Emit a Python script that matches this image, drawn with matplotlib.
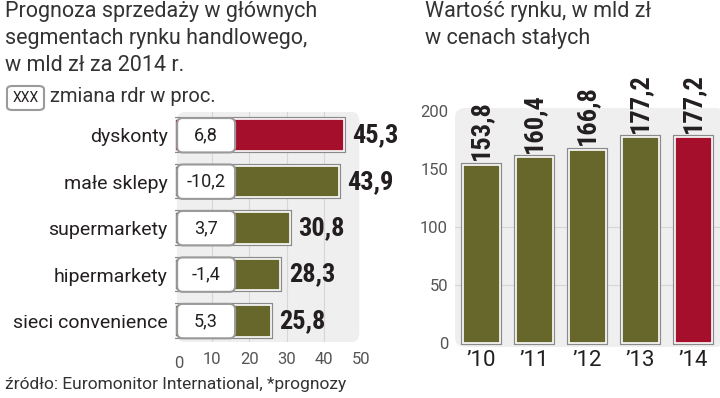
import matplotlib
matplotlib.use('Agg')
import matplotlib.pyplot as plt
import matplotlib.patheffects as pe
from matplotlib.patches import FancyBboxPatch

# left chart: sales forecast 2014 by segment
segments = ['dyskonty', 'małe sklepy', 'supermarkety', 'hipermarkety', 'sieci convenience']
sales = [45.3, 43.9, 30.8, 28.3, 25.8]
change = [6.8, -10.2, 3.7, -1.4, 5.3]
sales_ticks = [0, 10, 20, 30, 40, 50]

# right chart: market value
years = ['’10', '’11', '’12', '’13', '’14']
market = [153.8, 160.4, 166.8, 177.2, 177.2]
market_ticks = [0, 50, 100, 150, 200]

OLIVE = '#67672b'
RED = '#a50f2c'
BG = '#efeff0'
DARK = '#231f20'
BOLD = ['Roboto Condensed', 'Liberation Sans Narrow', 'DejaVu Sans']

plt.rcParams['font.family'] = ['Roboto', 'DejaVu Sans']


def fmt(v):
    return f'{v:.1f}'.replace('.', ',')


shadow = [pe.Stroke(linewidth=3, foreground='#8a8a8a'), pe.Normal()]

fig = plt.figure(figsize=(7.2, 3.98), dpi=100)

# ---- left panel
ax = fig.add_axes([174.5 / 720, 1 - 342 / 398, 187 / 720, 230 / 398])
ax.set_facecolor('none')
for s in ax.spines.values():
    s.set_visible(False)
ax.add_patch(FancyBboxPatch((0.013, 0), 0.975, 1, boxstyle='round,pad=0,rounding_size=0.04',
                            transform=ax.transAxes, fc=BG, ec='none', zorder=0))
ax.set_xlim(0, 50)
ax.set_ylim(4.45, -0.5)
for g in sales_ticks[1:-1]:
    ax.axvline(g, color='#d6d6d6', lw=0.8, zorder=1)

ypos = list(range(len(segments)))
cols = [RED] + [OLIVE] * (len(segments) - 1)
ax.barh(ypos, sales, height=0.68, color=cols, edgecolor='white', lw=1.2,
        path_effects=shadow, zorder=2)
for i, (v, c) in enumerate(zip(sales, change)):
    ax.add_patch(FancyBboxPatch((0.7, i - 0.37), 15.5, 0.74,
                                boxstyle='round,pad=0,rounding_size=1.5', mutation_aspect=0.08,
                                fc='white', ec='#9a9a9a', lw=1.5, zorder=3))
    ax.text(8.45, i, fmt(c), ha='center', va='center', fontsize=13, color=DARK, zorder=4)
    ax.annotate(fmt(v), (v, i), xytext=(6, 0), textcoords='offset points',
                ha='left', va='center', fontsize=19, fontweight='bold',
                fontstretch='condensed', family=BOLD, color=DARK)

ax.set_yticks(ypos)
ax.set_yticklabels(segments, fontsize=14, color=DARK)
ax.set_xticks(sales_ticks)
ax.set_xticklabels([''] + [str(t) for t in sales_ticks[1:]], fontsize=12, color='#555555')
ax.tick_params(length=0, pad=7)
ax.tick_params(axis='y', pad=5)
ax.text(1.2, -0.06, str(sales_ticks[0]), transform=ax.get_xaxis_transform(),
        ha='center', va='top', fontsize=12, color='#555555')

# ---- right panel
ax2 = fig.add_axes([455 / 720, 1 - 347 / 398, 265 / 720, 239 / 398])
ax2.set_facecolor('none')
for s in ax2.spines.values():
    s.set_visible(False)
ax2.add_patch(FancyBboxPatch((0, 0), 1.02, 1, boxstyle='round,pad=0,rounding_size=0.04',
                             transform=ax2.transAxes, fc=BG, ec='none', zorder=0,
                             clip_on=False))
ax2.set_xlim(-0.5, 4.5)
ax2.set_ylim(-3.4, 202.6)
for g in market_ticks[1:3]:
    ax2.axhline(g, color='#d6d6d6', lw=0.8, zorder=1)

xpos = list(range(len(years)))
cols2 = [OLIVE] * (len(years) - 1) + [RED]
ax2.bar(xpos, market, width=0.68, color=cols2, edgecolor='white', lw=1.2,
        path_effects=shadow, zorder=2)
for i, v in enumerate(market):
    ax2.annotate(fmt(v), (i, v), xytext=(0, 3), textcoords='offset points',
                 ha='center', va='bottom', rotation=90, fontsize=19,
                 fontweight='bold', fontstretch='condensed', family=BOLD, color=DARK)

ax2.set_xticks(xpos)
ax2.set_xticklabels(years, fontsize=16, color=DARK)
ax2.set_yticks(market_ticks)
ax2.set_yticklabels([str(t) for t in market_ticks], fontsize=12, color='#555555')
ax2.tick_params(length=0)
ax2.tick_params(axis='x', pad=2)
ax2.tick_params(axis='y', pad=5)

# ---- texts
fig.text(5 / 720, 1 - 1 / 398, 'Prognoza sprzedaży w głównych\nsegmentach rynku handlowego,\nw mld zł za 2014 r.',
         ha='left', va='top', fontsize=15.5, color='#333333', linespacing=1.38)
fig.add_artist(FancyBboxPatch((7 / 720, 1 - 110 / 398), 37 / 720, 24 / 398,
                              boxstyle='round,pad=0,rounding_size=0.008',
                              transform=fig.transFigure, fc='white', ec='#9a9a9a', lw=1.5))
fig.text(25.5 / 720, 1 - 98 / 398, 'XXX', ha='center', va='center', fontsize=10, color=DARK)
fig.text(50 / 720, 1 - 97 / 398, 'zmiana rdr w proc.', ha='left', va='center',
         fontsize=14.5, color='#333333')
fig.text(425 / 720, 1 - 1 / 398, 'Wartość rynku, w mld zł\nw cenach stałych',
         ha='left', va='top', fontsize=15.5, color='#333333', linespacing=1.38)
fig.text(5 / 720, 1 - 385 / 398, 'źródło: Euromonitor International, *prognozy',
         ha='left', va='center', fontsize=12.5, color='#333333')

fig.savefig('out.png', dpi=100, facecolor='white')
